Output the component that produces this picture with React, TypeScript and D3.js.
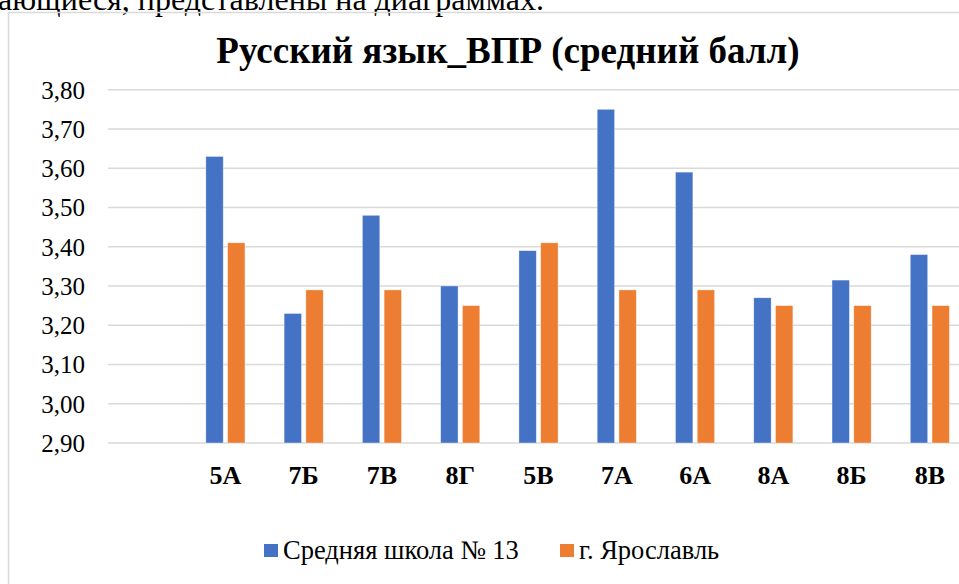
import React from 'react'
import * as d3 from 'd3'

const categories = ['', '5А', '7Б', '7В', '8Г', '5В', '7А', '6А', '8А', '8Б', '8В']
const school = [null, 3.63, 3.23, 3.48, 3.3, 3.39, 3.75, 3.59, 3.27, 3.315, 3.38]
const city = [null, 3.41, 3.29, 3.29, 3.25, 3.41, 3.29, 3.29, 3.25, 3.25, 3.25]
const seriesNames = ['Средняя школа № 13', 'г. Ярославль']
const colors = ['#4472C4', '#ED7D31']
const yTicks = [2.9, 3.0, 3.1, 3.2, 3.3, 3.4, 3.5, 3.6, 3.7, 3.8]

const W = 959
const H = 584
const FONT = "'Liberation Serif', 'DejaVu Serif', serif"

const App = () => {
    const margin = { left: 108, right: -10, top: 89.7, bottom: 443 }

    const x = d3.scaleBand().domain(categories).range([margin.left, W - margin.right])
    const inner = d3.scaleBand().domain(['0', '1']).range([0, x.bandwidth() / 2]).paddingInner(0.2)
    const y = d3.scaleLinear().domain([2.9, 3.8]).range([margin.bottom, margin.top])
    const fmt = (v) => d3.format('.2f')(v).replace('.', ',')

    const series = [school, city]
    const txt = { fontFamily: FONT }
    const legendX = [264, 560]

    return (
        <svg width={W} height={H} style={{ position: 'absolute', left: 0, top: 0, background: '#fff' }}>
            {/* tail of the document paragraph above the chart */}
            <text x={-2} y={9.5} fontSize={32} style={txt}>ающиеся, представлены на диаграммах.</text>
            <rect x={8.5} y={12.5} width={W} height={H} fill="none" stroke="#d9d9d9" strokeWidth={1.5} />

            <text x={508} y={63} fontSize={37} fontWeight="bold" textAnchor="middle" style={txt}>
                Русский язык_ВПР (средний балл)
            </text>

            {yTicks.map(t => (
                <g key={t}>
                    <line x1={margin.left} x2={W + 20} y1={y(t)} y2={y(t)} stroke="#d9d9d9" strokeWidth={1.5} />
                    <text x={85} y={y(t) + 9} fontSize={25} textAnchor="end" style={txt}>{fmt(t)}</text>
                </g>
            ))}

            {categories.map((c, i) => {
                const x0 = x(c) + x.bandwidth() / 4
                return (
                    <g key={i}>
                        {series.map((s, j) => s[i] == null ? null : (
                            <rect key={j}
                                x={x0 + inner(String(j))}
                                y={y(s[i])}
                                width={inner.bandwidth()}
                                height={y(2.9) - y(s[i])}
                                fill={colors[j]}
                                stroke="#fff" strokeOpacity={0.5} strokeWidth={0.75} />
                        ))}
                        <text x={x(c) + x.bandwidth() / 2} y={484} fontSize={26} fontWeight="bold" textAnchor="middle" style={txt}>{c}</text>
                    </g>
                )
            })}

            {seriesNames.map((name, j) => (
                <g key={name}>
                    <rect x={legendX[j]} y={544} width={14} height={13} fill={colors[j]} />
                    <text x={legendX[j] + 19} y={559} fontSize={26.5} style={txt}>{name}</text>
                </g>
            ))}
        </svg>
    )
}

export default App
